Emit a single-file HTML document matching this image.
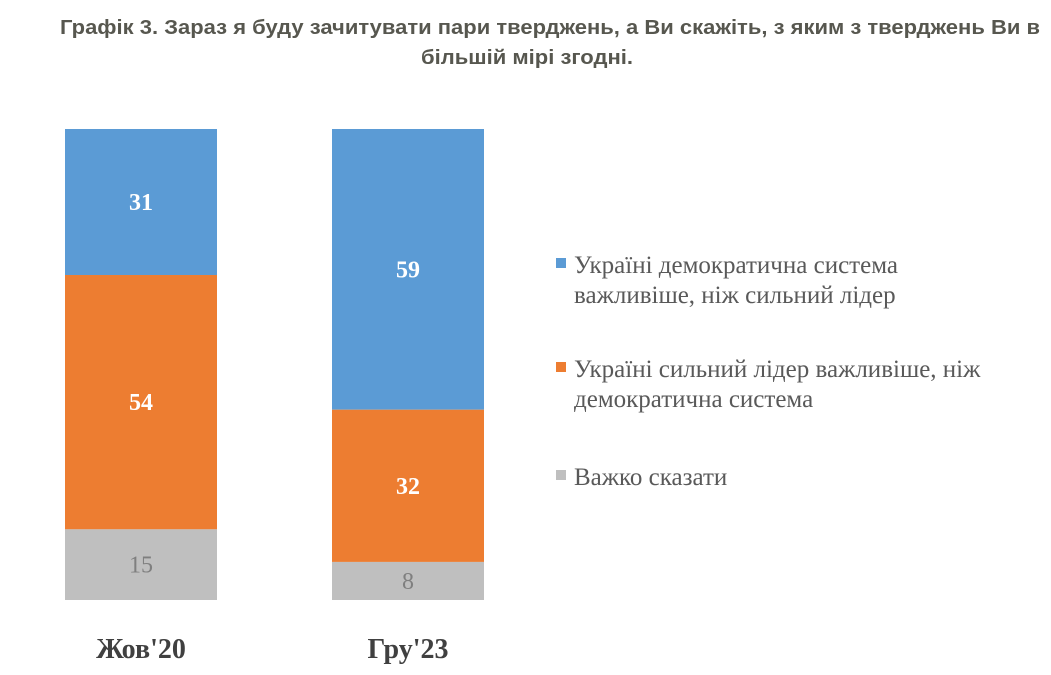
<!DOCTYPE html>
<html><head><meta charset="utf-8">
<style>
html,body{margin:0;padding:0;background:#fff;}
svg{display:block;}
</style></head>
<body>
<svg id="chart" width="1051" height="675" viewBox="0 0 1051 675" xmlns="http://www.w3.org/2000/svg">
  <g font-family="'Liberation Sans', sans-serif" font-weight="bold" font-size="20" fill="#57574f" text-anchor="middle">
    <text x="550" y="34" textLength="980" lengthAdjust="spacingAndGlyphs">Графік 3. Зараз я буду зачитувати пари тверджень, а Ви скажіть, з яким з тверджень Ви в</text>
    <text x="527" y="64" textLength="212" lengthAdjust="spacingAndGlyphs">більшій мірі згодні.</text>
  </g>
  <g id="bars"></g>
  <g id="xlabels"></g>
  <g id="legend"></g>
</svg>
<script>
const categories = ["Жов'20", "Гру'23"];
const democracyValues = [31, 59];
const strongLeaderValues = [54, 32];
const hardToSayValues = [15, 8];
const seriesNames = ["Україні демократична система важливіше, ніж сильний лідер", "Україні сильний лідер важливіше, ніж демократична система", "Важко сказати"];

const NS = "http://www.w3.org/2000/svg";
const series = [
  {vals: democracyValues, color: "#5b9bd5", text: "#ffffff", bold: true, key: "democracy"},
  {vals: strongLeaderValues, color: "#ed7d31", text: "#ffffff", bold: true, key: "strong-leader"},
  {vals: hardToSayValues, color: "#bfbfbf", text: "#7f7f7f", bold: false, key: "hard-to-say"}
];
const plotTop = 129, plotBottom = 600;
const barWidth = 152;
const firstBarX = 65, barStep = 267;
function xScale(i){ return firstBarX + i * barStep; }
function yScale(frac){ return plotTop + frac * (plotBottom - plotTop); }

const barsG = document.getElementById('bars');
const xlG = document.getElementById('xlabels');
categories.forEach((cat, i) => {
  const total = series.reduce((s, se) => s + se.vals[i], 0);
  let cum = 0;
  series.forEach(se => {
    const v = se.vals[i];
    const y0 = yScale(cum / total);
    const y1 = yScale((cum + v) / total);
    cum += v;
    const r = document.createElementNS(NS, 'rect');
    
    
    r.setAttribute('x', xScale(i));
    r.setAttribute('y', y0);
    r.setAttribute('width', barWidth);
    r.setAttribute('height', y1 - y0);
    r.setAttribute('fill', se.color);
    barsG.appendChild(r);
    const t = document.createElementNS(NS, 'text');
    
    
    t.setAttribute('x', xScale(i) + barWidth / 2);
    t.setAttribute('y', (y0 + y1) / 2 + 8);
    t.setAttribute('text-anchor', 'middle');
    t.setAttribute('font-family', "'Liberation Serif', serif");
    t.setAttribute('font-size', '24');
    t.setAttribute('font-weight', se.bold ? 'bold' : 'normal');
    t.setAttribute('fill', se.text);
    t.textContent = v;
    barsG.appendChild(t);
  });
  const lt = document.createElementNS(NS, 'text');
  
  
  lt.setAttribute('x', xScale(i) + barWidth / 2);
  lt.setAttribute('y', 658);
  lt.setAttribute('text-anchor', 'middle');
  lt.setAttribute('font-family', "'Liberation Serif', serif");
  lt.setAttribute('font-size', '28');
  lt.setAttribute('font-weight', 'bold');
  lt.setAttribute('fill', '#404040');
  lt.textContent = cat;
  xlG.appendChild(lt);
});

const legendG = document.getElementById('legend');
const legendLines = [
  ["Україні демократична система", "важливіше, ніж сильний лідер"],
  ["Україні сильний лідер важливіше, ніж", "демократична система"],
  ["Важко сказати"]
];
const legendBaselines = [273, 377, 485];
legendLines.forEach((lines, k) => {
  const sq = document.createElementNS(NS, 'rect');
  
  
  sq.setAttribute('x', 556);
  sq.setAttribute('y', legendBaselines[k] - 15);
  sq.setAttribute('width', 10);
  sq.setAttribute('height', 10);
  sq.setAttribute('fill', series[k].color);
  legendG.appendChild(sq);
  const t = document.createElementNS(NS, 'text');
  
  
  t.setAttribute('font-family', "'Liberation Serif', serif");
  t.setAttribute('font-size', '25');
  t.setAttribute('fill', '#595959');
  lines.forEach((ln, j) => {
    const ts = document.createElementNS(NS, 'tspan');
    ts.setAttribute('x', 574);
    ts.setAttribute('y', legendBaselines[k] + j * 30);
    ts.textContent = ln;
    t.appendChild(ts);
  });
  legendG.appendChild(t);
});
</script>
</body></html>
